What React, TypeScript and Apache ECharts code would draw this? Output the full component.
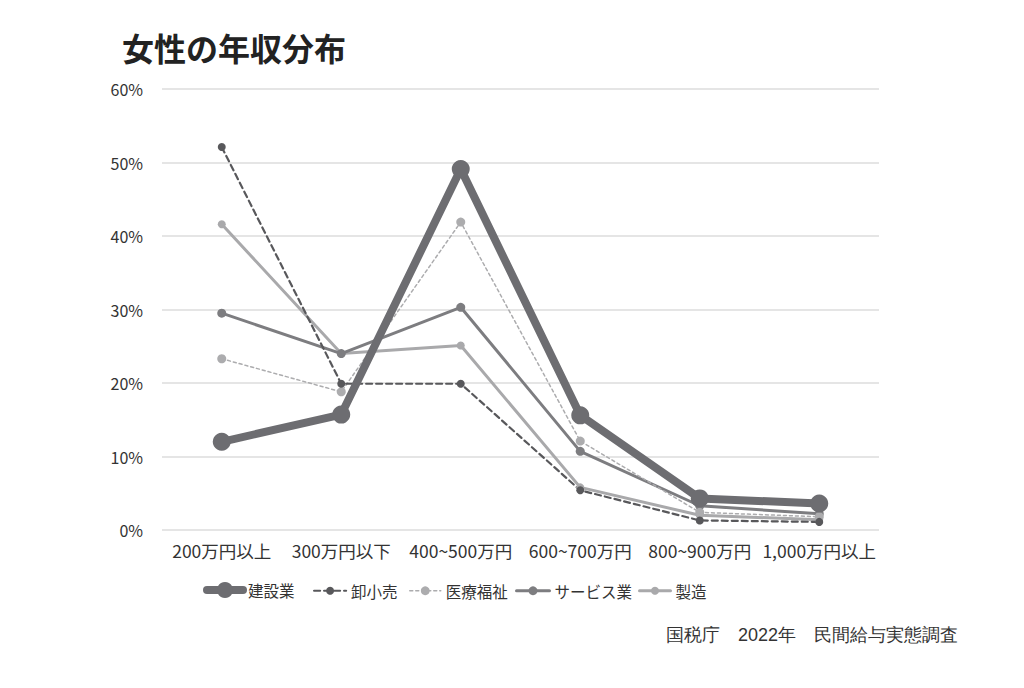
import React, { useEffect, useRef } from "react";
import * as echarts from "echarts";

const categories = ["200万円以上", "300万円以下", "400~500万円", "600~700万円", "800~900万円", "1,000万円以上"];
const kensetsu = [12.0, 15.7, 49.1, 15.6, 4.3, 3.6];
const oroshi = [52.1, 19.9, 19.9, 5.4, 1.3, 1.1];
const iryo = [23.3, 18.8, 41.9, 12.1, 2.4, 1.8];
const service = [29.5, 24.0, 30.3, 10.7, 3.3, 2.2];
const seizo = [41.6, 24.0, 25.1, 5.8, 2.0, 1.4];
const seriesNames = ["建設業", "卸小売", "医療福祉", "サービス業", "製造"];
const titleText = "女性の年収分布";
const sourceText = "国税庁　2022年　民間給与実態調査";

const FONT = "'Noto Sans CJK JP', 'Noto Sans', sans-serif";

const colors = ["#6d6d71", "#58585b", "#acacae", "#7d7d80", "#a9a9ab"];
const widths = [8, 2.2, 1.5, 3, 3];
const types: any[] = ["solid", [6, 4], [3, 3], "solid", "solid"];
const sizes = [18, 8, 9, 9, 8];
const legendLeft = [203, 313, 409, 515, 638];
const legendIconW = [36, 32, 31, 33, 31];

export default function App() {
  const ref = useRef<HTMLDivElement>(null);
  useEffect(() => {
    if (!ref.current) return;
    const chart = echarts.init(ref.current, undefined, { renderer: "svg" });
    const series = [4, 3, 2, 1, 0].map((i) => ({
      name: seriesNames[i],
      type: "line",
      data: [kensetsu, oroshi, iryo, service, seizo][i],
      symbol: "circle",
      symbolSize: sizes[i],
      itemStyle: { color: colors[i] },
      lineStyle: { color: colors[i], width: widths[i], type: types[i], cap: "round" },
      emphasis: { disabled: true },
    }));
    const legends = seriesNames.map((n, i) => {
      const h = sizes[i] + 2;
      return {
        left: legendLeft[i],
        top: 592 - Math.max(h, 18) / 2,
        padding: 0,
        itemWidth: legendIconW[i],
        itemHeight: h,
        selectedMode: false,
        textStyle: { fontSize: 15.5, color: "#333", fontFamily: FONT },
        data: [
          {
            name: n,
            itemStyle: { color: colors[i] },
            lineStyle: { color: colors[i], width: widths[i], type: types[i] },
          },
        ],
      };
    });
    chart.setOption({
      animation: false,
      textStyle: { fontFamily: FONT },
      title: {
        text: titleText,
        left: 122,
        top: 31,
        padding: 0,
        textStyle: { fontSize: 32, fontWeight: "bold", color: "#222", fontFamily: FONT },
      },
      graphic: [
        {
          type: "text",
          right: 66,
          top: 626,
          style: { text: sourceText, fontSize: 18, fill: "#333", font: `18px ${FONT}` },
        },
      ],
      legend: legends,
      grid: { left: 162, right: 145, top: 89, bottom: 158 },
      xAxis: {
        type: "category",
        data: categories,
        axisLine: { show: false },
        axisTick: { show: false },
        axisLabel: { fontSize: 17.5, color: "#333", margin: 12, interval: 0, fontFamily: FONT },
      },
      yAxis: {
        type: "value",
        min: 0,
        max: 60,
        interval: 10,
        axisLabel: { formatter: "{value}%", fontSize: 16, color: "#333", margin: 19, fontFamily: FONT },
        splitLine: { lineStyle: { color: "#dcdcdc", width: 1.5 } },
        axisLine: { show: false },
        axisTick: { show: false },
      },
      series,
    });
    return () => chart.dispose();
  }, []);
  return <div ref={ref} style={{ position: "absolute", left: 0, top: 0, width: 1024, height: 688 }} />;
}
